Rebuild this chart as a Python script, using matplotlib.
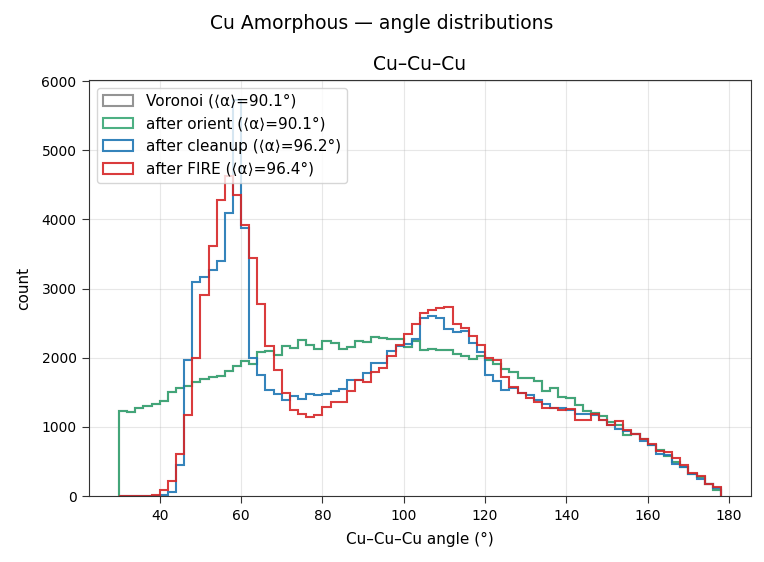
import numpy as np
import matplotlib
matplotlib.use("Agg")
import matplotlib.pyplot as plt

plt.rcParams['font.family'] = ['DejaVu Sans', 'Noto Sans', 'Noto Sans CJK SC']

# bin edges (degrees)
bin_edges = np.arange(30, 180, 2)

# counts per 2° bin, starting at 30°
voronoi = [1236, 1212, 1271, 1304, 1333, 1367, 1507, 1560, 1594, 1643,
           1691, 1725, 1739, 1802, 1874, 1957, 1910, 2083, 2102, 2045,
           2168, 2137, 2263, 2181, 2123, 2237, 2213, 2126, 2150, 2237,
           2227, 2296, 2281, 2270, 2267, 2160, 2238, 2112, 2122, 2112,
           2110, 2060, 2028, 1982, 2018, 1960, 1905, 1836, 1792, 1701,
           1701, 1662, 1517, 1560, 1425, 1411, 1314, 1227, 1203, 1164,
           1073, 1024, 889, 904, 831, 735, 662, 580, 494, 421,
           325, 276, 180, 92]
orient = list(voronoi)
cleanup = [0, 0, 0, 0, 5, 15, 53, 449, 1961, 3097,
           3169, 3275, 3396, 4087, 5730, 3870, 1990, 1756, 1530, 1482,
           1385, 1443, 1405, 1470, 1460, 1473, 1520, 1550, 1673, 1673,
           1785, 1920, 1930, 2090, 2165, 2200, 2265, 2580, 2605, 2570,
           2420, 2372, 2382, 2213, 2082, 1746, 1665, 1531, 1565, 1493,
           1459, 1387, 1329, 1276, 1280, 1251, 1179, 1193, 1169, 1097,
           1034, 966, 937, 904, 792, 744, 614, 599, 469, 421,
           325, 252, 170, 121]
fire = [0, 0, 0, 5, 15, 87, 217, 609, 1174, 1995,
        2913, 3614, 4275, 4628, 4348, 3918, 3435, 2783, 2166, 1819,
        1496, 1241, 1193, 1145, 1178, 1287, 1362, 1362, 1520, 1678,
        1654, 1800, 1846, 2020, 2185, 2342, 2493, 2648, 2684, 2718,
        2735, 2486, 2424, 2312, 2182, 1997, 1968, 1715, 1570, 1483,
        1411, 1362, 1280, 1266, 1242, 1256, 1097, 1106, 1179, 1106,
        1024, 1082, 952, 904, 831, 759, 652, 638, 556, 445,
        334, 290, 180, 131]

series = [
    ("Voronoi", 90.1, voronoi, "#888888"),
    ("after orient", 90.1, orient, "#3aa876"),
    ("after cleanup", 96.2, cleanup, "#1f77b4"),
    ("after FIRE", 96.4, fire, "#d62728"),
]

fig = plt.figure(figsize=(7.64, 5.62), dpi=100)
ax = fig.add_axes([0.1165, 0.1174, 0.8665, 0.7403])

centers = bin_edges[:-1] + 1
for name, mean, counts, col in series:
    ax.hist(centers, bins=bin_edges, weights=counts, histtype='step',
            color=col, lw=1.5, alpha=0.9,
            label=f"{name} (\u27e8\u03b1\u27e9={mean}\u00b0)")

ax.set_xticks(range(40, 181, 20))
ax.grid(alpha=0.3)
ax.tick_params(labelsize=10, length=4.8, pad=4.2, color="#333333")
for s in ax.spines.values():
    s.set_color("#333333")
ax.set_xlabel("Cu\u2013Cu\u2013Cu angle (\u00b0)", fontsize=11, labelpad=7)
ax.set_ylabel("count", fontsize=11, labelpad=7.5)
ax.set_title("Cu\u2013Cu\u2013Cu", fontsize=13.5, pad=7)
ax.legend(loc="upper left", fontsize=11)
fig.suptitle("Cu Amorphous \u2014 angle distributions", fontsize=13.5, y=0.975)

fig.savefig("out.png", dpi=100)
